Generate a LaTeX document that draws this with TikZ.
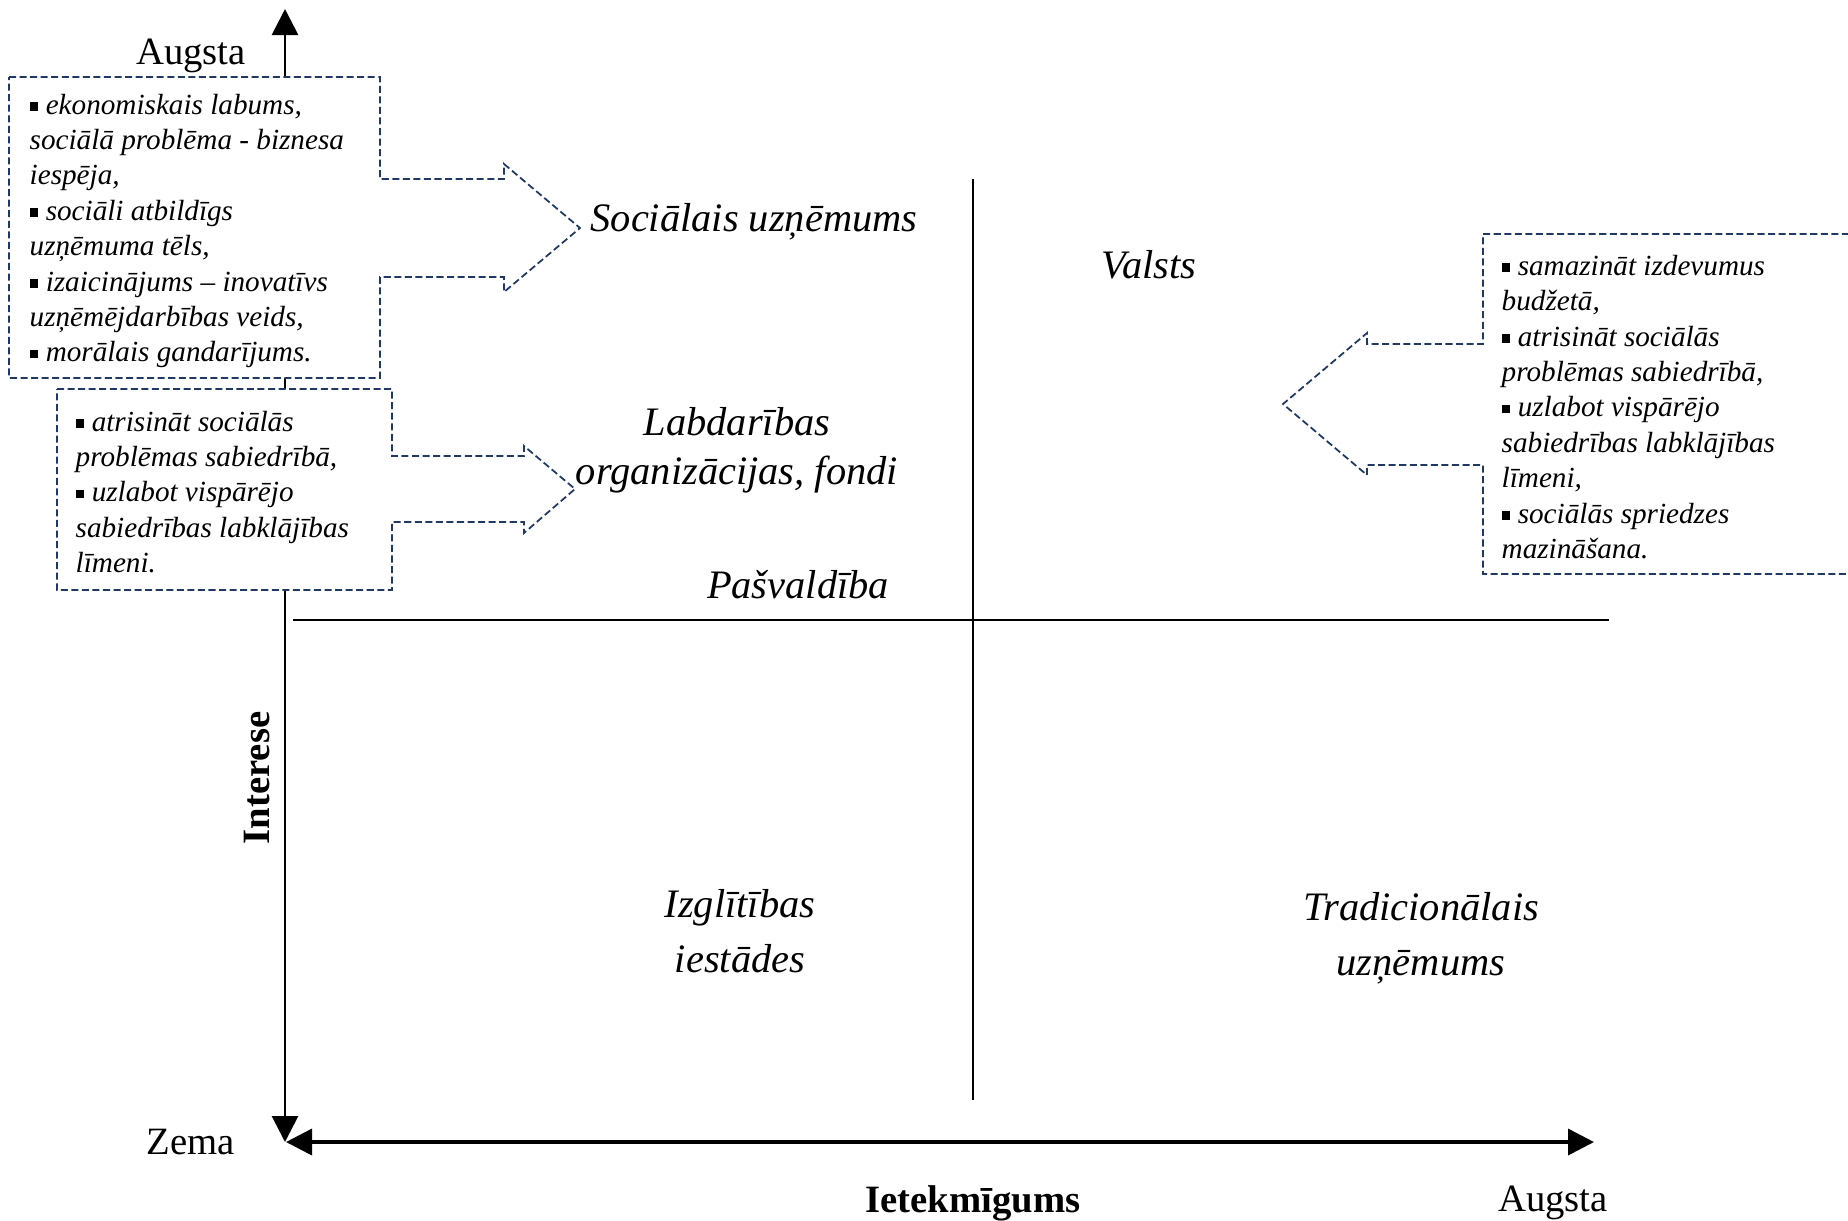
\documentclass[tikz,border=0pt]{standalone}
\usepackage{fontspec}
\setmainfont{Liberation Serif}[ItalicFont={Liberation Serif Italic},BoldFont={Liberation Serif Bold}]
\usetikzlibrary{arrows.meta}
\definecolor{boxblue}{RGB}{31,56,100}
\newcommand\sqb{\textup{\raisebox{0.12em}{\rule{0.3em}{0.3em}}}\ }
\begin{document}
\begin{tikzpicture}[x=0.01cm,y=-0.01cm,>={Triangle[length=2.6mm,width=2.6mm]},
		lbl/.style={font=\fontsize{11.5}{14}\selectfont\itshape,align=center},
		axl/.style={font=\fontsize{11}{13}\selectfont},
		note/.style={font=\fontsize{8.3}{10.07}\selectfont\itshape,align=left,anchor=west,inner sep=0pt},
		callout/.style={draw=boxblue,fill=white,line width=0.5pt,dash pattern=on 2pt off 1pt}]
		\useasboundingbox (0,0) rectangle (1848,1220);
		\coordinate (ytop) at (285,9);
		\coordinate (ybot) at (285,1142);
		\coordinate (xleft) at (286,1142);
		\coordinate (xright) at (1594,1142);
		\draw[<->,line width=0.8pt] (ytop)--(ybot);
		\draw[<->,line width=1pt] (xleft)--(xright);
		\draw[line width=0.4pt] (973,179)--(973,1100);
		\draw[line width=0.4pt] (293,620)--(1609,620);
		\draw[callout] (9,77)--(380,77)--(380,179)--(504,179)--(504,164)--(580,228)--(504,292)--(504,277)--(380,277)--(380,378)--(9,378)--cycle;
		\draw[callout] (57,389)--(392,389)--(392,456)--(524,456)--(524,446)--(575,489)--(524,533)--(524,522)--(392,522)--(392,590)--(57,590)--cycle;
		\draw[callout] (1870,234)--(1483,234)--(1483,344)--(1367,344)--(1367,333)--(1283,404)--(1367,475)--(1367,465)--(1483,465)--(1483,574)--(1870,574);
		\node[note] (why1) at (29,231) {\sqb ekonomiskais labums,\\sociālā problēma - biznesa\\iespēja,\\\sqb sociāli atbildīgs\\uzņēmuma tēls,\\\sqb izaicinājums – inovatīvs\\uzņēmējdarbības veids,\\\sqb morālais gandarījums.};
		\node[note] (why2) at (75,492) {\sqb atrisināt sociālās\\problēmas sabiedrībā,\\\sqb uzlabot vispārējo\\sabiedrības labklājības\\līmeni.};
		\node[note] (why3) at (1501,407) {\sqb samazināt izdevumus\\budžetā,\\\sqb atrisināt sociālās\\problēmas sabiedrībā,\\\sqb uzlabot vispārējo\\sabiedrības labklājības\\līmeni,\\\sqb sociālās spriedzes\\mazināšana.};
		\node[lbl] (soc) at (754,222) {Sociālais uzņēmums};
		\node[lbl] (labd) at (737,450) {Labdarības\\organizācijas, fondi};
		\node[lbl] (pasv) at (798,585) {Pašvaldība};
		\node[lbl] (valsts) at (1149,265) {Valsts};
		\node[lbl,font=\fontsize{11.5}{15.5}\selectfont\itshape] (izgl) at (740,931) {Izglītības\\iestādes};
		\node[lbl,font=\fontsize{11.5}{15.5}\selectfont\itshape] (trad) at (1421,938) {Tradicionālais\\uzņēmums};
		\node[axl] (hi) at (191,56) {Augsta};
		\node[axl] (lo) at (191,1142) {Zema};
		\node[axl,font=\fontsize{11}{13}\selectfont\bfseries] (ietek) at (973,1203) {Ietekmīgums};
		\node[axl] (hi2) at (1553,1203) {Augsta};
		\node[axl,font=\fontsize{11}{13}\selectfont\bfseries,rotate=90] (inter) at (257,778) {Interese};
	\end{tikzpicture}
\end{document}
